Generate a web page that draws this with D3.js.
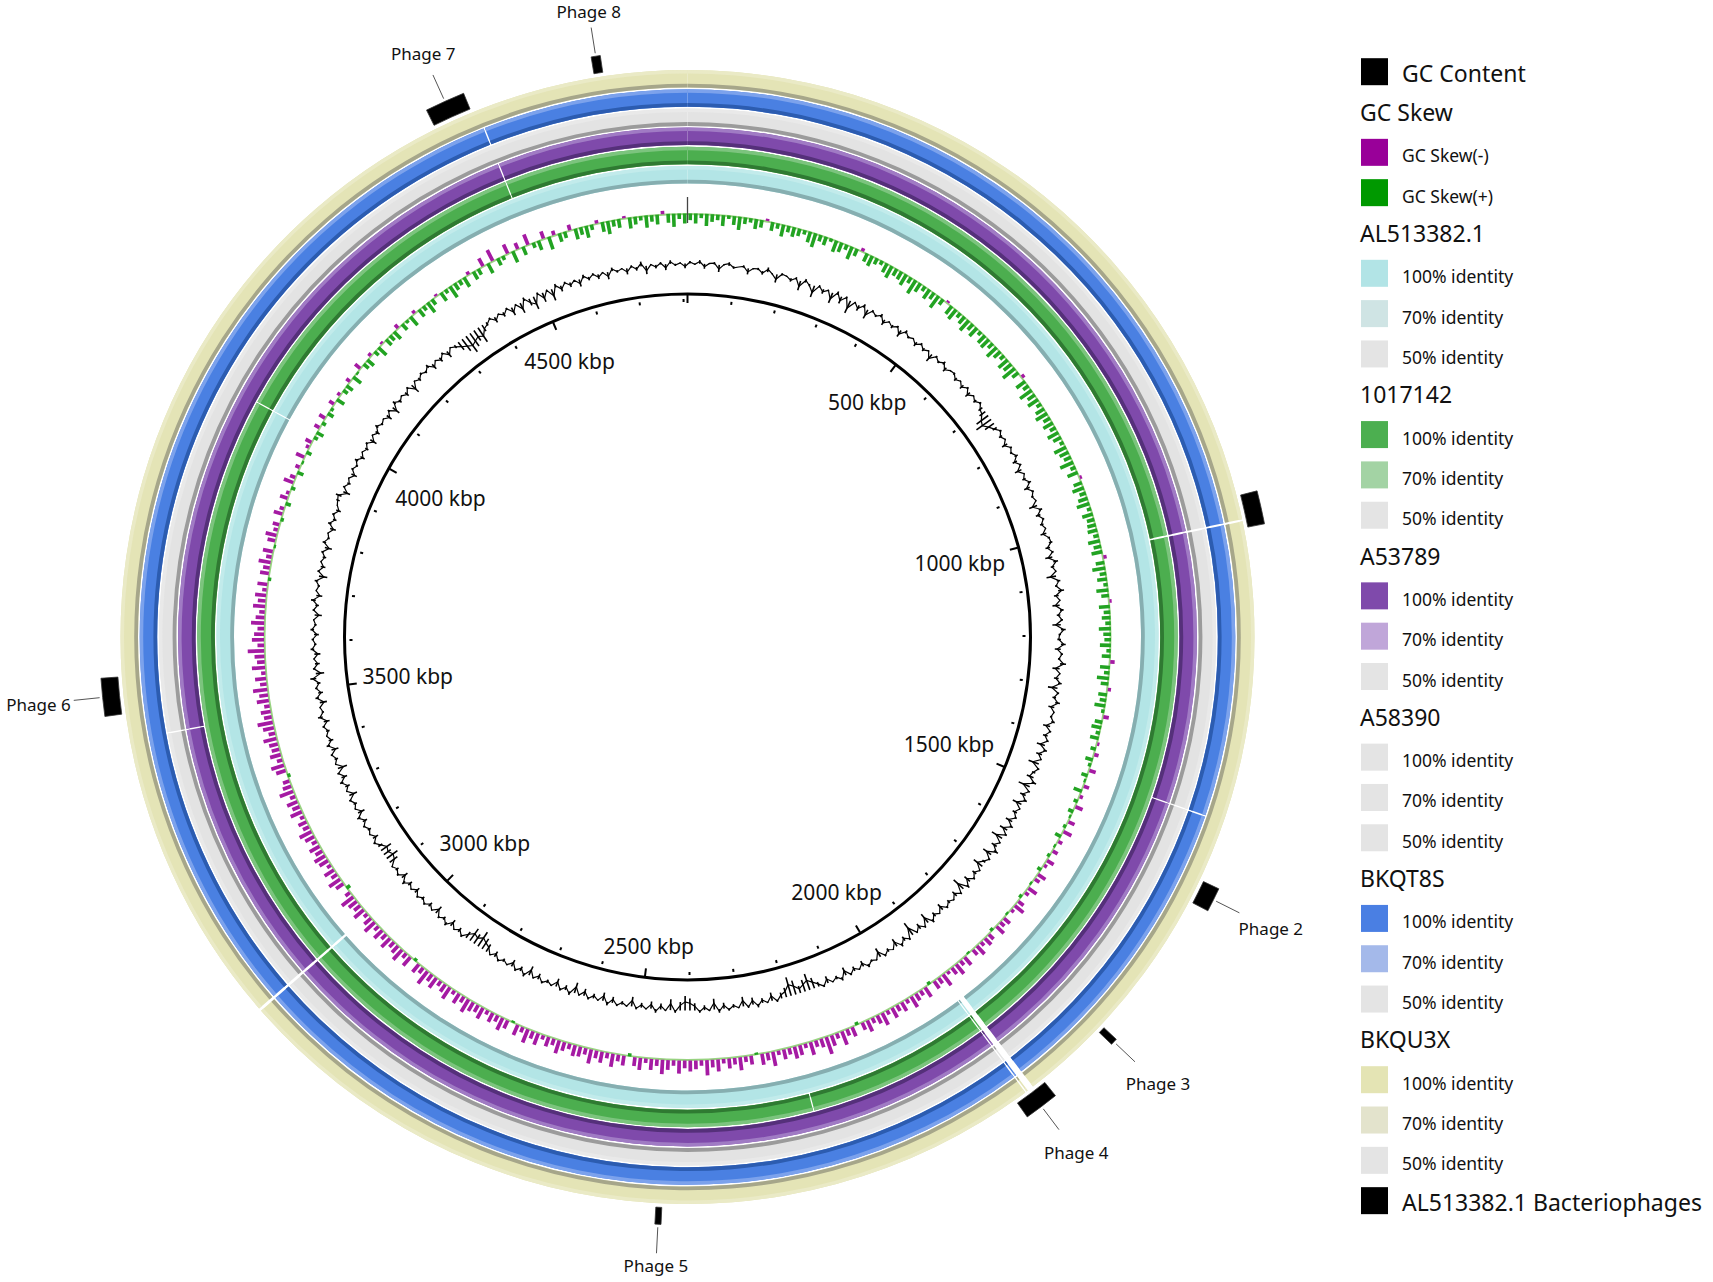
<!DOCTYPE html>
<html><head><meta charset="utf-8">
<script src="https://cdn.jsdelivr.net/npm/d3@7"></script>
<style>
body{margin:0;background:#fff}
svg{display:block}
text{font-family:"Noto Sans","Open Sans",sans-serif;fill:#111}
</style>
</head><body>
<svg id="chart" width="1713" height="1282"></svg>
<script>
// ---------------- DATA ----------------
const genomeLength = 4809; // kbp
const majorTicks = [0,500,1000,1500,2000,2500,3000,3500,4000,4500];
const tickLabels = ["","500 kbp","1000 kbp","1500 kbp","2000 kbp","2500 kbp","3000 kbp","3500 kbp","4000 kbp","4500 kbp"];
const minorTickStep = 100;

// GC content deviation, 480 windows (~10 kbp each), positive = above average
const gcContent = [
 2,-1,3,-4,1,2,-6,1,3,-2,0,2,-5,1,2,-3,4,-1,-7,2,
 1,-3,2,-8,3,-2,-10,2,-4,1,-9,3,-6,2,-11,1,-5,3,-8,2,
 -2,3,-5,1,-3,2,-6,3,-2,1,-4,2,-3,1,-7,2,-2,3,-4,1,
 2,-3,1,-4,2,-5,1,-3,2,-4,-6,-12,-15,-9,-4,2,-3,1,-5,2,
 -2,3,-4,2,-6,1,-3,3,-5,2,-2,1,-7,3,-4,2,-3,1,-5,2,
 3,-4,2,-6,4,-3,1,-8,3,-2,5,-4,1,-6,3,-3,2,-7,4,-2,
 -3,4,-5,2,-2,5,-6,1,-4,3,-8,2,-3,4,-5,1,-2,3,-6,2,
 -4,2,-7,3,-5,1,-9,2,-3,-6,4,-10,2,-5,3,-8,1,-4,2,-6,
 3,-7,2,-10,1,-5,4,-8,2,-3,-9,1,-4,2,-6,3,-11,2,-5,1,
 -3,2,-6,1,-4,3,-9,2,-5,1,-12,2,-4,3,-7,1,-3,2,-8,1,
 -2,3,-5,1,-4,2,-7,3,-3,1,-6,2,-4,-9,-14,-10,-6,-12,-16,-8,
 -5,2,-7,1,-4,3,-6,2,-8,1,-3,2,-5,3,-9,1,-4,2,-6,-10,
 -12,-7,2,-9,1,-5,3,-6,1,-4,2,-8,1,-3,2,-5,3,-7,1,-4,
 2,-6,1,-9,3,-4,2,-7,1,-3,2,-5,1,-8,3,-4,2,-6,1,-3,
 2,-5,1,-7,-10,-14,-9,-12,-6,2,-4,1,-6,3,-3,2,-7,1,-4,2,
 -3,2,-5,1,-4,3,-6,2,-3,1,-8,-11,-7,-10,-4,2,-5,1,-3,2,
 -4,3,-6,1,-3,2,-7,1,-4,3,-5,2,-8,1,-3,2,-6,3,-4,1,
 -3,2,-5,4,-2,1,-6,3,-4,2,-3,5,-7,2,-4,1,-5,3,-2,2,
 -4,3,-2,1,-6,2,-3,4,-5,1,-2,3,-7,2,-4,1,-3,2,-6,3,
 -2,1,-5,3,-3,2,-4,1,3,5,-6,2,-3,1,-5,2,-2,3,-4,1,
 -3,2,-6,1,-4,3,-2,1,-5,2,-7,3,-3,1,-4,2,-8,1,-3,2,
 -2,3,-5,1,-4,2,-6,1,-3,-8,-12,-16,-13,-10,-14,-6,-3,2,-5,1,
 -4,2,-7,1,-9,3,-6,-11,2,-8,1,-10,3,-5,2,-4,1,-6,3,-3,
 2,-4,1,-6,3,-2,1,-5,2,-3,4,-7,1,-3,2,-5,3,-2,1,-4
];

// GC skew, 480 windows, positive = GC Skew(+)
const gcSkew = [
 6,9,4,11,7,5,10,3,8,12,6,4,9,7,-2,8,5,11,6,9,
 7,4,10,13,6,8,3,11,9,5,12,7,-3,8,10,6,4,9,12,7,
 8,11,6,14,9,5,10,7,13,6,-2,9,11,5,8,12,7,10,4,9,
 10,6,12,8,5,11,9,14,7,-3,10,6,13,8,11,5,9,12,7,10,
 6,11,8,4,12,9,7,13,5,10,-2,8,11,6,9,12,4,10,7,8,
 9,5,11,7,10,-3,8,12,6,9,4,11,7,-2,10,6,8,5,11,7,
 6,10,4,8,-4,9,5,11,7,-3,8,6,10,3,-5,7,9,4,8,-2,
 5,-4,7,3,-6,6,2,-5,8,-3,4,-7,5,2,-6,3,-8,6,-4,2,
 -5,3,-7,-3,4,-8,-5,2,-9,-4,3,-6,-10,-3,2,-7,-5,-9,3,-6,
 -8,-4,-10,-6,2,-9,-5,-11,-7,-3,-12,-6,-8,3,-10,-5,-7,-11,-4,-9,
 -6,-10,-4,-12,-8,-5,-11,-7,3,-9,-6,-13,-5,-10,-16,-8,-6,-12,-4,-9,
 -11,-6,-9,-4,-13,-7,-10,2,-8,-5,-12,-6,-9,-4,-11,-7,-14,-5,-8,-10,
 -7,-12,-5,-9,-13,-6,-10,-4,-11,-8,3,-9,-6,-12,-5,-10,-7,-13,-6,-9,
 -10,-5,-8,-12,-6,-9,-4,-11,-7,-13,-5,-10,2,-8,-12,-6,-9,-4,-11,-7,
 -9,-13,-6,-10,-4,-12,-8,-5,-11,-7,-14,-6,-9,3,-10,-5,-12,-8,-6,-11,
 -6,-10,-5,-12,-8,-4,-11,-7,-9,-13,-5,4,-8,-12,-6,-10,-4,-9,-11,-7,
 -10,-5,-9,-12,-6,-8,-4,-11,-7,-10,-5,-13,-8,-6,3,-9,-12,-5,-10,-7,
 -8,-12,-6,-10,-14,-7,-9,-5,-11,-8,-13,-6,-10,-4,-12,-7,-9,-15,-6,-11,
 -9,-6,-12,-8,-5,-11,-7,-10,-4,-9,3,-8,-6,-11,-5,-9,2,-7,-10,-4,
 -6,3,-8,-4,5,-7,-3,4,-9,-5,6,-4,2,-8,5,-3,-6,4,7,-5,
 4,-6,6,3,-5,8,-3,5,7,-4,9,2,-6,6,8,-3,5,10,-2,7,
 6,9,-4,7,3,10,-3,8,5,11,6,-2,9,4,12,7,5,10,-3,8,
 6,-8,10,-11,7,4,-9,11,-6,8,-10,5,9,-7,12,-4,8,6,-5,10,
 7,11,5,-3,9,12,6,8,-2,10,7,4,11,6,9,-3,8,12,5,9
];

// BLAST rings, inner to outer
const ringNames = ["AL513382.1","1017142","A53789","A58390","BKQT8S","BKQU3X"];
const ringColors = ["#b3e5e6","#4cae4f","#7f4aab","#e3e3e3","#4a80e2","#e4e4b6"];
const ringHighlight = ["#c2ebeb","#7cc47e","#a07bc4","#e9e9e9","#7ca2ec","#eaeac6"];
const ringShadow = ["#86aeb0","#2f7a32","#55307a","#9b9b9b","#2c5cb0","#a6a68a"];
// regions without hits (kbp start, kbp end, ring indices)
const gapStart = [1042, 1456, 1903, 1914, 2204, 3056, 3466, 3988, 4517];
const gapEnd   = [1045, 1458, 1912, 1916, 2206, 3060, 3468, 3990, 4519];
const gapRings = [[1,2,3,4,5],[2,3,4],[0,1,2,3,4,5],[0,1,2,3,4,5],[1],[0,1,2,3,4,5],[2,3],[0,1],[1,2,4]];

// Bacteriophage regions (kbp)
const phageNames = ["", "Phage 2","Phage 3","Phage 4","Phage 5","Phage 6","Phage 7","Phage 8"];
const phageStart = [1010, 1541, 1779, 1887, 2439, 3503, 4457, 4683];
const phageEnd   = [1054, 1573, 1788, 1933, 2447, 3553, 4510, 4695];

// Legend
const legendText = ["GC Content","GC Skew","GC Skew(-)","GC Skew(+)",
 "AL513382.1","100% identity","70% identity","50% identity",
 "1017142","100% identity","70% identity","50% identity",
 "A53789","100% identity","70% identity","50% identity",
 "A58390","100% identity","70% identity","50% identity",
 "BKQT8S","100% identity","70% identity","50% identity",
 "BKQU3X","100% identity","70% identity","50% identity",
 "AL513382.1 Bacteriophages"];
const legendSwatch = ["#000000",null,"#990099","#009900",
 null,"#b2e4e6","#cfe4e4","#e4e4e4",
 null,"#4caf50","#a3d3a4","#e4e4e4",
 null,"#7f4aab","#c0a6d9","#e4e4e4",
 null,"#e4e4e4","#e4e4e4","#e4e4e4",
 null,"#4a7fe3","#a4b9ea","#e4e4e4",
 null,"#e4e4b4","#e3e3cc","#e4e4e4",
 "#000000"];
const legendLarge = [true,true,false,false,true,false,false,false,true,false,false,false,true,false,false,false,true,false,false,false,true,false,false,false,true,false,false,false,true];

// ---------------- DRAW ----------------
const svg = d3.select("#chart");
const cx = 687.5, cy = 637;
const g = svg.append("g").attr("transform", `translate(${cx},${cy})`);
const ang = d3.scaleLinear().domain([0, genomeLength]).range([0, 2*Math.PI]);
const px = (a, r) => Math.sin(a) * r, py = (a, r) => -Math.cos(a) * r;

const ringInner0 = 453.5, ringStep = 19.2, ringW = 17.5;
const arc = d3.arc();

// rings
ringNames.forEach((name, ri) => {
  const r0 = ringInner0 + ri*ringStep, r1 = r0 + ringW;
  const gaps = gapStart.map((s,k)=>[s,gapEnd[k],gapRings[k]]).filter(d=>d[2].includes(ri)).sort((a,b)=>a[0]-b[0]);
  const segs = []; let pos = 0;
  gaps.forEach(gp => { if (gp[0] > pos) segs.push([pos, gp[0]]); pos = Math.max(pos, gp[1]); });
  if (pos < genomeLength) segs.push([pos, genomeLength]);
  const layer = g.append("g").attr("class","ring-"+name);
  segs.forEach(sg => {
    const a0 = ang(sg[0]), a1 = ang(sg[1]);
    layer.append("path").attr("d", arc({innerRadius:r0, outerRadius:r1, startAngle:a0, endAngle:a1})).attr("fill", ringColors[ri]);
    layer.append("path").attr("d", arc({innerRadius:r1-3.5, outerRadius:r1, startAngle:a0, endAngle:a1})).attr("fill", ringHighlight[ri]);
    layer.append("path").attr("d", arc({innerRadius:r0, outerRadius:r0+3.8, startAngle:a0, endAngle:a1})).attr("fill", ringShadow[ri]);
  });
});

// GC content: bars from baseline plus a trace through the window values
const nGC = gcContent.length, binGC = genomeLength / nGC;
const gcBase = 373.5;
const gcScale = d3.scaleLinear().domain([-10,10]).range([-12,12]);
const gcG = g.append("g").attr("class","gc-content");
gcG.selectAll("line").data(gcContent).join("line")
  .attr("x1",(d,i)=>px(ang((i+0.5)*binGC), gcBase)).attr("y1",(d,i)=>py(ang((i+0.5)*binGC), gcBase))
  .attr("x2",(d,i)=>px(ang((i+0.5)*binGC), gcBase+gcScale(d))).attr("y2",(d,i)=>py(ang((i+0.5)*binGC), gcBase+gcScale(d)))
  .attr("stroke","#000").attr("stroke-width",1.6);
gcG.append("path").datum(gcContent)
  .attr("d", d3.lineRadial().angle((d,i)=>ang((i+0.5)*binGC)).radius(d=>gcBase + gcScale(d)*0.6).curve(d3.curveLinearClosed))
  .attr("fill","none").attr("stroke","#000").attr("stroke-width",1.2);

// GC skew: wedges per window, inward for (+), outward for (-)
const nSk = gcSkew.length, binSk = genomeLength / nSk;
const skBase = 423.5;
const skScale = d3.scaleLinear().domain([0,10]).range([0,11]);
const skG = g.append("g").attr("class","gc-skew");
skG.append("path").attr("d", arc({innerRadius:skBase-1.5, outerRadius:skBase+0.5, startAngle:0, endAngle:2*Math.PI}))
  .attr("fill","#6cbf4c").attr("opacity",0.7);
skG.selectAll("path.bar").data(gcSkew).join("path").attr("class","bar")
  .attr("d",(d,i)=>{
     const a0 = ang(i*binSk + binSk*0.17), a1 = ang((i+1)*binSk - binSk*0.17);
     const r0 = skBase, r1 = d >= 0 ? skBase - skScale(d) : skBase + skScale(-d);
     return arc({innerRadius:Math.min(r0,r1), outerRadius:Math.max(r0,r1), startAngle:a0, endAngle:a1});
  })
  .attr("fill", d => d >= 0 ? "#22a322" : "#a51aa3");
// origin marker
g.append("line").attr("x1",0).attr("y1",-414).attr("x2",0).attr("y2",-440).attr("stroke","#444").attr("stroke-width",1.3);

// inner backbone circle
const backR = 343;
g.append("circle").attr("r", backR).attr("fill","none").attr("stroke","#000").attr("stroke-width",3);

// ticks
const minorVals = d3.range(0, genomeLength, minorTickStep).filter(v => v % 500 !== 0);
g.selectAll("line.minor").data(minorVals).join("line").attr("class","minor")
  .attr("x1", d=>px(ang(d),backR-5)).attr("y1", d=>py(ang(d),backR-5))
  .attr("x2", d=>px(ang(d),backR-8)).attr("y2", d=>py(ang(d),backR-8))
  .attr("stroke","#000").attr("stroke-width",2);
g.selectAll("line.major").data(majorTicks).join("line").attr("class","major")
  .attr("x1", d=>px(ang(d),backR-1)).attr("y1", d=>py(ang(d),backR-1))
  .attr("x2", d=>px(ang(d),backR-9)).attr("y2", d=>py(ang(d),backR-9))
  .attr("stroke","#000").attr("stroke-width",2);

// tick labels
const labelR = 329;
majorTicks.forEach((v,i) => {
  if (!tickLabels[i]) return;
  const a = ang(v);
  const t = g.append("text").text(tickLabels[i]).attr("font-size",21)
    .attr("text-anchor","middle").attr("dominant-baseline","central");
  const bb = t.node().getBBox();
  const d = labelR - (bb.width/2)*Math.abs(Math.sin(a)) - (bb.height/2 - 2)*Math.abs(Math.cos(a));
  t.attr("x", px(a,d)).attr("y", py(a,d));
});

// phages
const phR0 = 571, phR1 = 588;
phageStart.forEach((s,i) => {
  g.append("path").attr("d", arc({innerRadius:phR0, outerRadius:phR1, startAngle:ang(s), endAngle:ang(phageEnd[i])}))
   .attr("fill","#000").attr("stroke","#333").attr("stroke-width",0.8);
  if (!phageNames[i]) return;
  const a = ang((s + phageEnd[i]) / 2);
  g.append("line")
   .attr("x1", px(a,591)).attr("y1", py(a,591))
   .attr("x2", px(a,617)).attr("y2", py(a,617))
   .attr("stroke","#555").attr("stroke-width",1);
  const t = g.append("text").text(phageNames[i]).attr("font-size",17)
    .attr("text-anchor","middle").attr("dominant-baseline","central");
  const bb = t.node().getBBox();
  const d = 619.5 + (bb.width/2)*Math.abs(Math.sin(a)) + (bb.height/2 - 3)*Math.abs(Math.cos(a));
  t.attr("x", px(a,d)).attr("y", py(a,d));
});

// legend
const lg = svg.append("g").attr("class","legend");
legendText.forEach((txt,i) => {
  const y = 81.7 + 40.32*i;
  if (legendSwatch[i]) {
    lg.append("rect").attr("x",1361).attr("y",y-23.5).attr("width",27).attr("height",27)
      .attr("fill",legendSwatch[i]);
    lg.append("text").attr("x",1402).attr("y",y).attr("font-size", legendLarge[i]?23:17.5).text(txt);
  } else {
    lg.append("text").attr("x",1360).attr("y",y-1).attr("font-size",23).text(txt);
  }
});
</script>
</body></html>
